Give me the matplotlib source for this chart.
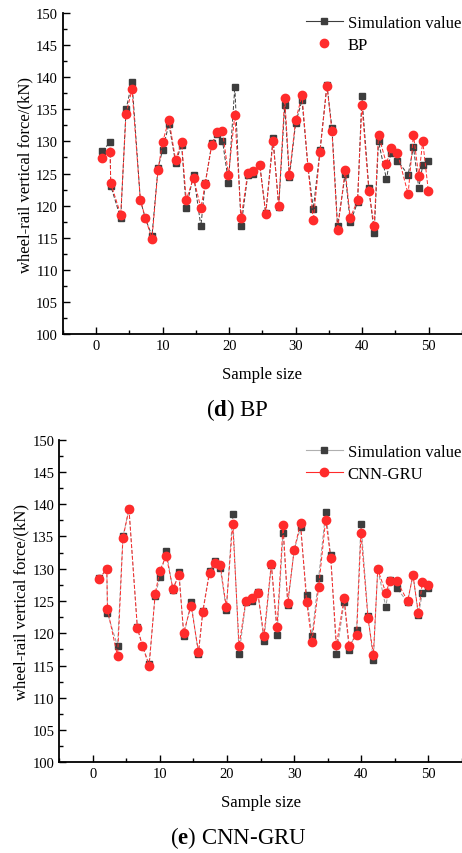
import numpy as np
import matplotlib
matplotlib.use("Agg")
import matplotlib.pyplot as plt
from matplotlib.lines import Line2D
from matplotlib.ticker import MultipleLocator

plt.rcParams["mathtext.fontset"] = "custom"
plt.rcParams["mathtext.rm"] = "Liberation Serif"
plt.rcParams["mathtext.bf"] = "Liberation Serif:bold"

# sample positions (shared by both panels)
sample_x = [0.95, 2.1, 2.2, 3.7, 4.5, 5.4, 6.65, 7.4, 8.4, 9.3,
            10.0, 10.95, 11.95, 12.85, 13.55, 14.65, 15.75, 16.4, 17.4, 18.2,
            19.0, 19.9, 20.85, 21.8, 22.8, 23.65, 24.6, 25.5, 26.6, 27.45,
            28.35, 29.05, 30.0, 30.95, 31.85, 32.65, 33.65, 34.7, 35.45, 36.3,
            37.45, 38.2, 39.3, 39.95, 41.0, 41.8, 42.45, 43.65, 44.3, 45.3,
            46.9, 47.7, 48.5, 49.1, 49.95]

sim_value = [128.5, 129.9, 123.1, 118.0, 135.0, 139.2, 120.9, 118.0, 115.3, 125.8,
             128.7, 132.7, 126.7, 129.5, 119.6, 124.8, 116.8, 123.5, 129.7, 131.2,
             130.1, 123.6, 138.5, 116.8, 124.8, 125.0, 126.4, 118.8, 130.5, 119.8,
             135.6, 124.4, 132.9, 136.4, 126.0, 119.5, 128.6, 138.8, 132.1, 116.8,
             124.9, 117.4, 120.5, 137.0, 122.7, 115.8, 130.0, 124.1, 128.2, 127.0,
             124.8, 129.1, 122.8, 126.3, 127.0]

bp_value = [127.4, 128.4, 123.5, 118.6, 134.3, 138.1, 120.9, 118.1, 114.8, 125.5,
            129.9, 133.4, 127.1, 129.9, 120.9, 124.3, 119.6, 123.4, 129.5, 131.4,
            131.6, 124.8, 134.1, 118.1, 125.1, 125.4, 126.3, 118.7, 130.0, 120.0,
            136.8, 124.8, 133.3, 137.2, 126.0, 117.7, 128.3, 138.7, 131.6, 116.2,
            125.5, 118.1, 120.8, 135.7, 122.3, 116.8, 131.0, 126.5, 128.9, 128.2,
            121.8, 131.0, 124.6, 130.0, 122.2]

cnn_gru_value = [128.4, 130.0, 123.7, 116.4, 134.7, 139.3, 120.8, 118.1, 114.9, 126.1,
                 129.7, 132.0, 126.9, 129.0, 120.1, 124.3, 117.1, 123.3, 129.4, 130.9,
                 130.5, 124.0, 137.0, 118.1, 125.0, 125.4, 126.2, 119.6, 130.8, 120.9,
                 136.7, 124.7, 132.9, 137.1, 124.9, 118.7, 127.2, 137.6, 131.6, 118.2,
                 125.4, 118.1, 119.7, 135.6, 122.3, 116.7, 129.9, 126.3, 128.1, 128.1,
                 125.0, 129.0, 123.1, 127.9, 127.5]

SIM_C = "#3d3d3d"
RED = "#ff2b2b"
serif = ["Liberation Serif", "DejaVu Serif"]


def style_axes(ax):
    ax.set_xlim(-5, 55)
    ax.set_ylim(100, 150)
    ax.xaxis.set_major_locator(MultipleLocator(10))
    ax.xaxis.set_minor_locator(MultipleLocator(5))
    ax.yaxis.set_major_locator(MultipleLocator(5))
    ax.yaxis.set_minor_locator(MultipleLocator(2.5))
    ax.tick_params(which="both", direction="in", width=1.0, labelsize=10.5)
    ax.tick_params(which="major", length=5)
    ax.tick_params(which="minor", length=3)
    for lab in ax.get_xticklabels() + ax.get_yticklabels():
        lab.set_family(serif)
    ax.spines["top"].set_visible(False)
    ax.spines["right"].set_visible(False)
    ax.spines["left"].set_linewidth(1.3)
    ax.spines["bottom"].set_linewidth(1.3)
    ax.set_xlabel("Sample size", family=serif, fontsize=12, labelpad=10)
    ax.set_ylabel("wheel-rail vertical force/(kN)", family=serif, fontsize=12, labelpad=2)


def add_legend(ax, handles, labels, top_px):
    ax.legend(handles, labels, loc="upper left",
              bbox_to_anchor=(291 / 462, 1 - top_px / 854),
              bbox_transform=fig.transFigure, frameon=False,
              prop={"family": serif, "size": 12}, handlelength=2.2,
              handletextpad=0.3, labelspacing=0.35)


fig = plt.figure(figsize=(4.62, 8.54), dpi=100)

ax1 = fig.add_axes([0.136, 0.6077, 0.864, 0.3759])
ax1.plot(sample_x, sim_value, color=SIM_C, lw=0.7, ls=(0, (4, 2)),
         marker="s", ms=5, mfc=SIM_C, mec=SIM_C, zorder=2)
ax1.plot(sample_x, bp_value, color=RED, lw=0.7, ls=(0, (4, 2)),
         marker="o", ms=6, mfc=RED, mec=RED, zorder=3)
style_axes(ax1)
h1 = [Line2D([], [], color=SIM_C, lw=0.8, marker="s", ms=5),
      Line2D([], [], color=RED, lw=0, marker="o", ms=6)]
add_legend(ax1, h1, ["Simulation value", "BP"], 1)

ax2 = fig.add_axes([0.128, 0.1062, 0.872, 0.3778])
ax2.plot(sample_x, sim_value, color="#9a9a9a", lw=0.7, ls=(0, (4, 2)),
         marker="s", ms=5, mfc=SIM_C, mec=SIM_C, zorder=2)
ax2.plot(sample_x, cnn_gru_value, color=RED, lw=0.7, ls=(0, (4, 2)),
         marker="o", ms=6, mfc=RED, mec=RED, zorder=3)
style_axes(ax2)
h2 = [Line2D([], [], color="#b0b0b0", lw=0.8, marker="s", ms=5,
             mfc=SIM_C, mec=SIM_C),
      Line2D([], [], color=RED, lw=0.8, marker="o", ms=6)]
add_legend(ax2, h2, ["Simulation value", "CNN-GRU"], 430)

fig.text(0.513, 1 - 410 / 854, r"($\mathbf{d}$) BP", ha="center", va="center",
         family=serif, fontsize=16.5)
fig.text(0.515, 1 - 838 / 854, r"($\mathbf{e}$) CNN-GRU", ha="center", va="center",
         family=serif, fontsize=16.5)

fig.savefig("out.png", dpi=100)
